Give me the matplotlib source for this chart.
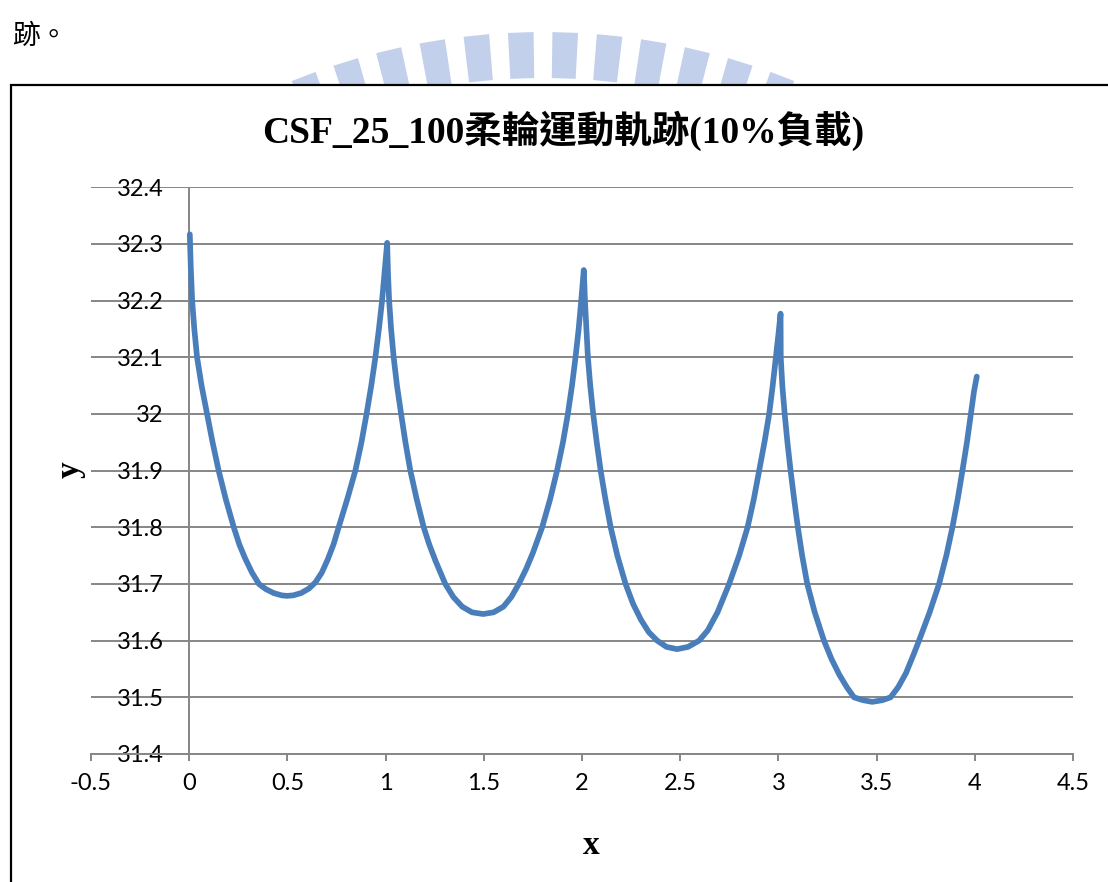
import numpy as np
import matplotlib
matplotlib.use('Agg')
import matplotlib.pyplot as plt
from matplotlib.patches import Polygon, Rectangle

# trajectory, one list per arc (cusp to cusp)
arc1_x = [0.003, 0.008, 0.015, 0.026, 0.040, 0.063, 0.091, 0.119, 0.150, 0.186, 0.227, 0.255, 0.285,
          0.320, 0.355, 0.390, 0.430, 0.470, 0.498, 0.530, 0.570, 0.610, 0.643, 0.675, 0.705, 0.735,
          0.761, 0.805, 0.846, 0.877, 0.903, 0.927, 0.948, 0.966, 0.982, 0.995, 1.008]
arc1_y = [32.317, 32.26, 32.2, 32.15, 32.1, 32.05, 32.0, 31.95, 31.9, 31.85, 31.8, 31.77, 31.745,
          31.72, 31.70, 31.691, 31.684, 31.680, 31.679, 31.680, 31.684, 31.692, 31.703, 31.72, 31.743, 31.77,
          31.8, 31.85, 31.9, 31.95, 32.0, 32.05, 32.1, 32.15, 32.2, 32.25, 32.302]
arc2_x = [1.012, 1.018, 1.028, 1.041, 1.058, 1.079, 1.101, 1.126, 1.158, 1.194, 1.222, 1.255, 1.304,
          1.345, 1.390, 1.440, 1.497, 1.550, 1.600, 1.640, 1.678, 1.715, 1.750, 1.797, 1.838, 1.873,
          1.903, 1.928, 1.949, 1.967, 1.983, 1.996, 2.009]
arc2_y = [32.25, 32.2, 32.15, 32.1, 32.05, 32.0, 31.95, 31.9, 31.85, 31.8, 31.77, 31.74, 31.70,
          31.677, 31.660, 31.650, 31.647, 31.650, 31.660, 31.677, 31.70, 31.726, 31.755, 31.8, 31.85, 31.9,
          31.95, 32.0, 32.05, 32.1, 32.15, 32.2, 32.254]
arc3_x = [2.012, 2.015, 2.030, 2.042, 2.057, 2.075, 2.095, 2.119, 2.146, 2.180, 2.222, 2.260, 2.300,
          2.340, 2.383, 2.430, 2.484, 2.540, 2.596, 2.640, 2.690, 2.749, 2.800, 2.843, 2.875, 2.902,
          2.929, 2.953, 2.971, 2.987, 3.000, 3.011]
arc3_y = [32.23, 32.2, 32.1, 32.05, 32.0, 31.95, 31.9, 31.85, 31.8, 31.75, 31.7, 31.665, 31.637,
          31.615, 31.6, 31.589, 31.585, 31.589, 31.6, 31.618, 31.650, 31.7, 31.75, 31.8, 31.85, 31.9,
          31.95, 32.0, 32.05, 32.1, 32.14, 32.177]
arc4_x = [3.012, 3.020, 3.032, 3.046, 3.062, 3.080, 3.099, 3.121, 3.147, 3.185, 3.232, 3.270, 3.310,
          3.350, 3.385, 3.430, 3.478, 3.530, 3.571, 3.610, 3.650, 3.690, 3.716, 3.770, 3.818, 3.855,
          3.886, 3.913, 3.937, 3.960, 3.980, 3.996, 4.010]
arc4_y = [32.1, 32.05, 32.0, 31.95, 31.9, 31.85, 31.8, 31.75, 31.7, 31.65, 31.6, 31.568, 31.54,
          31.517, 31.5, 31.495, 31.492, 31.495, 31.5, 31.518, 31.543, 31.577, 31.6, 31.65, 31.7, 31.75,
          31.8, 31.85, 31.9, 31.95, 32.0, 32.04, 32.066]

x_ticks = [-0.5, 0, 0.5, 1, 1.5, 2, 2.5, 3, 3.5, 4, 4.5]
x_tick_labels = ['-0.5', '0', '0.5', '1', '1.5', '2', '2.5', '3', '3.5', '4', '4.5']
y_ticks = [31.4, 31.5, 31.6, 31.7, 31.8, 31.9, 32.0, 32.1, 32.2, 32.3, 32.4]
y_tick_labels = ['31.4', '31.5', '31.6', '31.7', '31.8', '31.9', '32', '32.1', '32.2', '32.3', '32.4']

title = 'CSF_25_100柔輪運動軌跡(10%負載)'
serif_cjk = ['Liberation Serif', 'Noto Sans CJK TC']

W, H = 1108, 882
fig = plt.figure(figsize=(W / 100, H / 100), dpi=100)

# page layer: pixel coordinates, y down
bg = fig.add_axes([0, 0, 1, 1], zorder=0)
bg.set_xlim(0, W)
bg.set_ylim(H, 0)
bg.axis('off')

# faint logo watermark behind the chart box
cx, cy, r_in, r_out = 543, 700, 622, 668
for ang in np.linspace(-21, 21, 12):
    a0, a1 = np.radians(ang - 1.1), np.radians(ang + 1.1)
    pts = [(cx + r * np.sin(a), cy - r * np.cos(a)) for r, a in
           [(r_in, a0), (r_out, a0), (r_out, a1), (r_in, a1)]]
    bg.add_patch(Polygon(pts, closed=True, color='#c2d0eb', lw=0))

bg.text(12, 36, '跡。', fontsize=20, va='center', ha='left', family=['Noto Sans CJK TC', 'DejaVu Sans'])

# chart box
bg.add_patch(Rectangle((11, 85), 1200, 900, facecolor='white', edgecolor='black', lw=1.6, zorder=2))

ax = fig.add_axes([91 / W, 1 - 754 / H, (1073 - 91) / W, (754 - 187.3) / H], zorder=1)
ax.set_facecolor('none')
grid_c = '#868686'

ax.plot(arc1_x + arc2_x + arc3_x + arc4_x, arc1_y + arc2_y + arc3_y + arc4_y,
        color='#4a7ebb', lw=4.1, solid_capstyle='round', solid_joinstyle='round', zorder=3)

ax.set_xlim(-0.5, 4.5)
ax.set_ylim(31.4, 32.4)
ax.set_xticks(x_ticks)
ax.set_xticklabels(x_tick_labels)
ax.set_yticks(y_ticks)
ax.set_yticklabels(y_tick_labels)
ax.yaxis.grid(True, color=grid_c, lw=1.4)
ax.axvline(0, color=grid_c, lw=1.4, zorder=2)
for s in ['top', 'left', 'right']:
    ax.spines[s].set_visible(False)
ax.spines['bottom'].set_color(grid_c)
ax.spines['bottom'].set_linewidth(1.4)
ax.tick_params(axis='x', direction='out', length=5, width=1.4, color=grid_c, pad=9, labelsize=17)
ax.tick_params(axis='y', length=0, pad=-52.5, labelsize=17)
for lab in ax.get_xticklabels() + ax.get_yticklabels():
    lab.set_family('Lato')

fig.text(563 / W, 1 - 131 / H, title, ha='center', va='center', fontsize=27,
         fontweight='bold', family=serif_cjk)
fig.text(70 / W, 1 - 470 / H, 'y', rotation=90, ha='center', va='center', fontsize=24,
         fontweight='bold', family=serif_cjk)
fig.text(591 / W, 1 - 845 / H, 'x', ha='center', va='center', fontsize=24,
         fontweight='bold', family=serif_cjk)

fig.savefig('out.png', dpi=100)
